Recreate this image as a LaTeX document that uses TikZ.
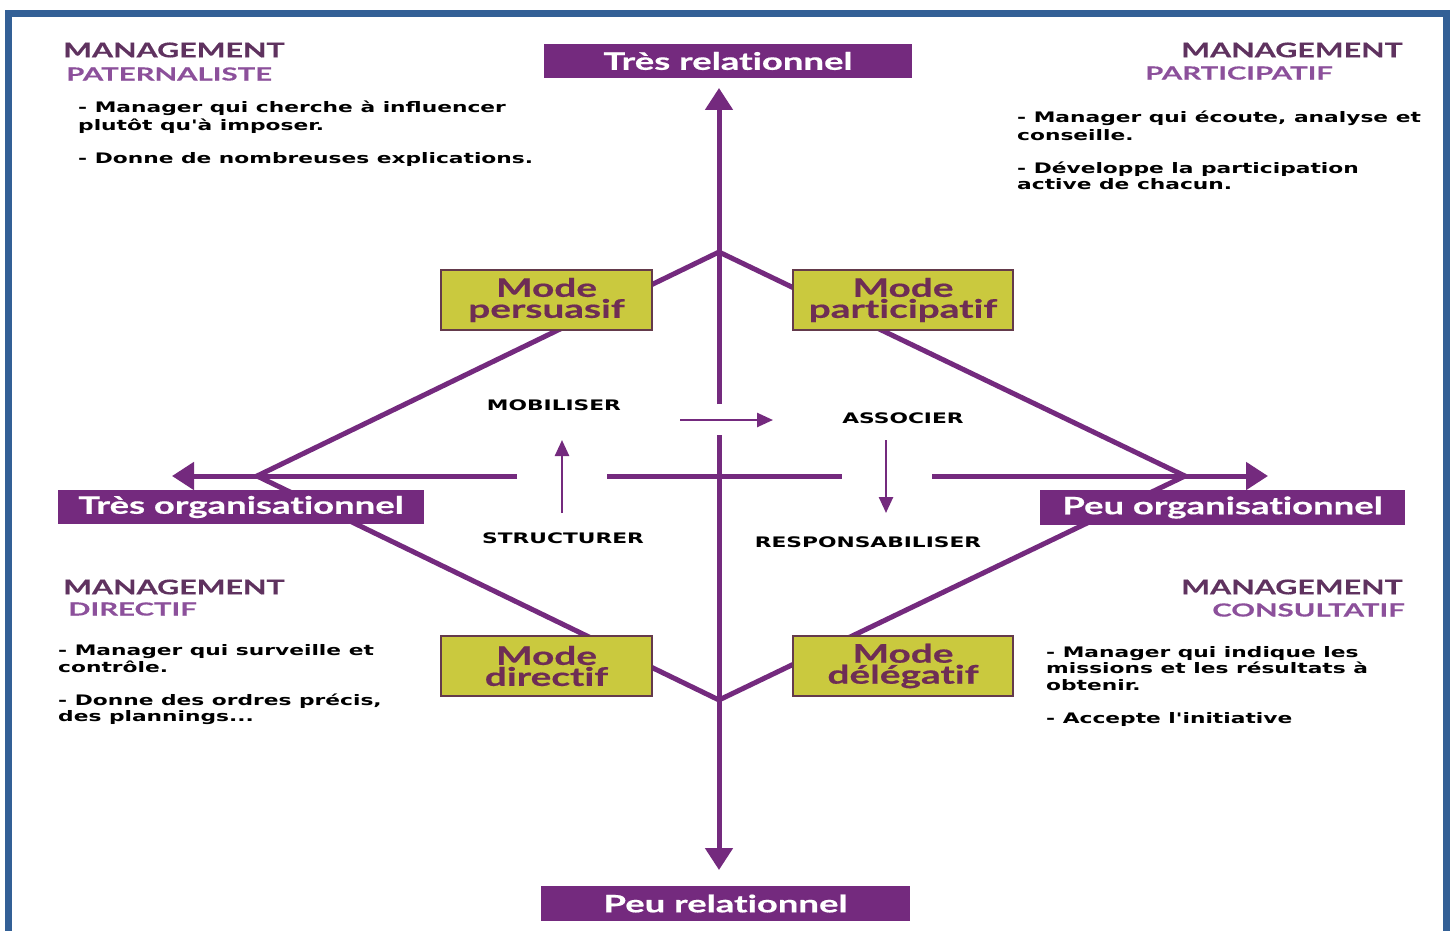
\documentclass[tikz,border=0pt]{standalone}
\usepackage{fontspec}
\usetikzlibrary{arrows.meta}
\newfontfamily\bodyf{DejaVu Sans}[FakeStretch=1.5]
\newfontfamily\headf{Lato}[FakeStretch=1.5, Ligatures=NoCommon, BoldFeatures={FakeBold=0.4}]
\newfontfamily\subf{Lato}[FakeStretch=1.63, Ligatures=NoCommon, BoldFeatures={FakeBold=0.3}]
\newfontfamily\boxf{Lato}[FakeStretch=1.52, Ligatures=NoCommon, BoldFeatures={FakeBold=0.6}]
\definecolor{frameblue}{RGB}{51,96,150}
\definecolor{axispurple}{RGB}{116,42,126}
\definecolor{modefill}{RGB}{202,201,62}
\definecolor{modeline}{RGB}{100,58,75}
\definecolor{modetext}{RGB}{110,45,85}
\definecolor{headdark}{RGB}{95,50,95}
\definecolor{headlight}{RGB}{140,80,155}
\tikzset{
  axisbox/.style={fill=axispurple, text=white, inner sep=0pt, minimum height=34pt,
    font=\boxf\bfseries\fontsize{24}{24}\selectfont},
  modebox/.style={fill=modefill, draw=modeline, line width=2.5pt, inner sep=0pt,
    minimum width=211pt, minimum height=60pt, align=center, text=modetext,
    font=\boxf\bfseries\fontsize{25.5}{21}\selectfont},
  axisline/.style={draw=axispurple, line width=5pt},
  bigarrow/.style={axisline, -{Triangle[length=22pt,width=27pt]}},
  smallarrow/.style={draw=axispurple, line width=2.5pt, -{Triangle[length=16pt,width=14pt]}},
  diamond line/.style={draw=axispurple, line width=5pt, line join=miter},
  bodytext/.style={anchor=base west, inner sep=0pt, font=\bodyf\bfseries\fontsize{14.5}{18}\selectfont},
  midlabel/.style={inner sep=0pt, font=\bodyf\bfseries\fontsize{14.5}{18}\selectfont},
  headA/.style={inner sep=0pt, text=headdark, font=\headf\bfseries\fontsize{20.3}{20}\selectfont},
  headB/.style={inner sep=0pt, text=headlight, font=\subf\bfseries\fontsize{18}{18}\selectfont},
}
\begin{document}
\begin{tikzpicture}[x=1pt,y=-1pt]
\useasboundingbox (0,0) rectangle (1453,931);
\fill[white] (0,0) rectangle (1453,931);
% frame
\draw[frameblue, line width=7pt] (8,940) -- (8,13.5) -- (1446,13.5) -- (1446,940);

% key points
\coordinate (vtop) at (719,252);
\coordinate (vleft) at (257,476);
\coordinate (vbot) at (719,700);
\coordinate (vright) at (1185,476);
\coordinate (uptip) at (719,88);
\coordinate (upstart) at (719,404);
\coordinate (downstart) at (719,435);
\coordinate (downtip) at (719,870);
\coordinate (lefttip) at (172,476);
\coordinate (leftstart) at (517,476);
\coordinate (midA) at (607,476);
\coordinate (midB) at (842,476);
\coordinate (rightstart) at (932,476);
\coordinate (righttip) at (1268,476);
\coordinate (shA) at (680,420);
\coordinate (shB) at (773,420);
\coordinate (upA) at (562,513);
\coordinate (upB) at (562,440);
\coordinate (dnA) at (886,440);
\coordinate (dnB) at (886,513);

% diamond
\draw[diamond line] (vtop) -- (vleft) -- (vbot) -- (vright) -- cycle;

% axes
\draw[bigarrow] (upstart) -- (uptip);
\draw[bigarrow] (downstart) -- (downtip);
\draw[bigarrow] (leftstart) -- (lefttip);
\draw[axisline] (midA) -- (midB);
\draw[bigarrow] (rightstart) -- (righttip);
\draw[smallarrow] (shA) -- (shB);
\draw[smallarrow] (upA) -- (upB);
\draw[smallarrow] (dnA) -- (dnB);

% axis boxes
\node[axisbox, minimum width=368pt] (trel) at (728,61) {Très relationnel};
\node[axisbox, minimum width=369pt, minimum height=35pt] (prel) at (725.5,903.5) {Peu relationnel};
\node[axisbox, minimum width=366pt] (torg) at (241,507) {Très organisationnel};
\node[axisbox, minimum width=365pt, minimum height=35pt] (porg) at (1222.5,507.5) {Peu organisationnel};

% mode boxes
\node[modebox] (mpers) at (546.5,300) {Mode\\persuasif};
\node[modebox, minimum width=220pt] (mpart) at (903,300) {Mode\\participatif};
\node[modebox] (mdir) at (546.5,666) {Mode\\directif};
\node[modebox, minimum width=220pt] (mdel) at (903,666) {Mode\\délégatif};

% middle labels
\node[midlabel] (lmob) at (554,405) {MOBILISER};
\node[midlabel] (lass) at (903,418) {ASSOCIER};
\node[midlabel] (lstr) at (563,538) {STRUCTURER};
\node[midlabel] (lres) at (868,542) {RESPONSABILISER};

% headers
\node[headA, anchor=west] (hTL) at (63,50) {MANAGEMENT};
\node[headB, anchor=west] (sTL) at (66,74) {PATERNALISTE};
\node[headA, anchor=east] (hTR) at (1403,50) {MANAGEMENT};
\node[headB, anchor=west] (sTR) at (1145,73) {PARTICIPATIF};
\node[headA, anchor=west] (hBL) at (63,587) {MANAGEMENT};
\node[headB, anchor=west] (sBL) at (68,609) {DIRECTIF};
\node[headA, anchor=east] (hBR) at (1403,587) {MANAGEMENT};
\node[headB, anchor=east] (sBR) at (1405,610) {CONSULTATIF};

% body texts
\node[bodytext] (tl1) at (78,113) {- Manager qui cherche à influencer};
\node[bodytext] (tl2) at (78,131) {plutôt qu'à imposer.};
\node[bodytext] (tl3) at (78,163) {- Donne de nombreuses explications.};

\node[bodytext] (tr1) at (1017,123) {- Manager qui écoute, analyse et};
\node[bodytext] (tr2) at (1017,140) {conseille.};
\node[bodytext] (tr3) at (1017,173) {- Développe la participation};
\node[bodytext] (tr4) at (1017,189) {active de chacun.};

\node[bodytext] (bl1) at (58,655) {- Manager qui surveille et};
\node[bodytext] (bl2) at (58,672) {contrôle.};
\node[bodytext] (bl3) at (58,705) {- Donne des ordres précis,};
\node[bodytext] (bl4) at (58,721) {des plannings...};

\node[bodytext] (br1) at (1046,657) {- Manager qui indique les};
\node[bodytext] (br2) at (1046,673) {missions et les résultats à};
\node[bodytext] (br3) at (1046,690) {obtenir.};
\node[bodytext] (br4) at (1046,723) {- Accepte l'initiative};
\end{tikzpicture}
\end{document}
